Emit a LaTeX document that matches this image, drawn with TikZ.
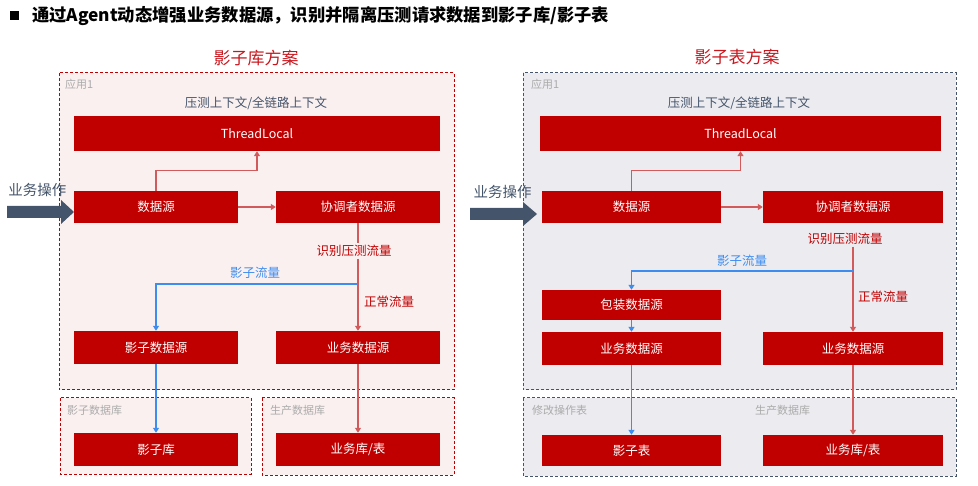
\documentclass[tikz,border=0pt]{standalone}
\usepackage{fontspec}
\setmainfont{Noto Sans CJK SC}
\usetikzlibrary{arrows.meta}
\definecolor{boxred}{HTML}{C00000}
\definecolor{titlered}{HTML}{C8161D}
\definecolor{linered}{HTML}{D25A5A}
\definecolor{lineblue}{HTML}{3D8DF0}
\definecolor{slate}{HTML}{44546A}
\definecolor{pinkbg}{HTML}{FBF0F0}
\definecolor{graybg}{HTML}{EBEBF0}
\definecolor{lblgray}{HTML}{ABABAB}
\tikzset{
  rbox/.style={fill=boxred, text=white, inner sep=0pt, font=\fontsize{12.5}{14}\selectfont},
  redarrow/.style={draw=linered, line width=1.3pt, -{Triangle[width=6pt,length=5pt]}},
  redline/.style={draw=linered, line width=1.3pt},
  bluearrow/.style={draw=lineblue, line width=1.2pt, -{Triangle[width=6pt,length=5pt]}},
  blueline/.style={draw=lineblue, line width=1.2pt},
  zoneL/.style={draw=boxred, dash pattern=on 3pt off 2pt, line width=1pt, fill=pinkbg},
  zoneR/.style={draw=slate, dash pattern=on 3pt off 2pt, line width=1pt, fill=graybg},
  zlabel/.style={text=lblgray, inner sep=0pt, anchor=west, font=\fontsize{11}{12}\selectfont},
  ctx/.style={text=slate, inner sep=0pt, font=\fontsize{12.5}{14}\selectfont},
  ptitle/.style={text=titlered, inner sep=0pt, font=\fontsize{17}{19}\selectfont},
  flowred/.style={text=boxred, inner sep=2pt, font=\fontsize{12.5}{14}\selectfont},
  flowblue/.style={text=lineblue, inner sep=2pt, font=\fontsize{12.5}{14}\selectfont},
  oplabel/.style={text=slate, inner sep=0pt, font=\fontsize{14.5}{16}\selectfont},
  bigarrow/.style={fill=slate, draw=none},
}
\begin{document}
\begin{tikzpicture}[x=1pt,y=-1pt]
\useasboundingbox (0,0) rectangle (978,486);
% header
\fill[black] (10,11) rectangle (19,20);
\node[anchor=west, inner sep=0pt, font=\fontsize{17.3}{19}\selectfont\bfseries] (hdr) at (32,16) {通过Agent动态增强业务数据源，识别并隔离压测请求数据到影子库/影子表};

% ===== Left panel =====
\node[ptitle] (lt) at (256,58) {影子库方案};
\draw[zoneL] (59,73) rectangle (454,390);
\draw[zoneL] (60,398) rectangle (251,474);
\draw[zoneL] (262,398) rectangle (454,475);
\node[zlabel] (lapp) at (65,84) {应用1};
\node[zlabel] (lzs) at (67,410) {影子数据库};
\node[zlabel] (lzp) at (270,410) {生产数据库};
\node[ctx] (lctx) at (256,103) {压测上下文/全链路上下文};

\node[rbox, minimum width=366pt, minimum height=35pt] (LTL) at (257,133.5) {ThreadLocal};
\node[rbox, minimum width=164pt, minimum height=32pt] (LDS) at (156,207) {数据源};
\node[rbox, minimum width=164pt, minimum height=32pt] (LCO) at (358,207) {协调者数据源};
\node[rbox, minimum width=164pt, minimum height=33pt] (LSDS) at (156,347.5) {影子数据源};
\node[rbox, minimum width=164pt, minimum height=33pt] (LBDS) at (358,347.5) {业务数据源};
\node[rbox, minimum width=164pt, minimum height=33pt] (LSK) at (156,449.5) {影子库};
\node[rbox, minimum width=164pt, minimum height=33pt] (LBK) at (358,449.5) {业务库/表};

\draw[redarrow] (LDS.north) -- ++(0,-20) -| (LTL.south);
\draw[redarrow] (LDS.east) -- (LCO.west);
\node[flowred] (ldet) at (354,251) {识别压测流量};
\draw[redline] (LCO.south) -- (LCO.south |- ldet.north);
\draw[redarrow] (LCO.south |- ldet.south) -- (LBDS.north);
\coordinate (lbr) at (358,284);
\draw[bluearrow] (lbr) -| (LSDS.north);
\node[flowblue] (lsf) at (255,273) {影子流量};
\node[flowred, anchor=west, inner sep=0pt] (lnf) at (364,302) {正常流量};
\draw[bluearrow] (LSDS.south) -- (LSK.north);
\draw[redarrow] (LBDS.south) -- (LBK.north);

\node[oplabel] (lop) at (37.5,190) {业务操作};
\fill[bigarrow] (7,206) -- (61,206) -- (61,200) -- (74,212) -- (61,224) -- (61,218) -- (7,218) -- cycle;

% ===== Right panel =====
\node[ptitle] (rt) at (737,57) {影子表方案};
\draw[zoneR] (523,73) rectangle (956,390);
\draw[zoneR] (523,398) rectangle (956,476);
\node[zlabel] (rapp) at (531,84) {应用1};
\node[zlabel] (rzs) at (532,410) {修改操作表};
\node[zlabel] (rzp) at (755,410) {生产数据库};
\node[ctx] (rctx) at (739,103) {压测上下文/全链路上下文};

\node[rbox, minimum width=401pt, minimum height=35pt] (RTL) at (740.5,133.5) {ThreadLocal};
\node[rbox, minimum width=179pt, minimum height=32pt] (RDS) at (631.5,207) {数据源};
\node[rbox, minimum width=180pt, minimum height=32pt] (RCO) at (853,207) {协调者数据源};
\node[rbox, minimum width=179pt, minimum height=30pt] (RWDS) at (631.5,305) {包装数据源};
\node[rbox, minimum width=179pt, minimum height=33pt] (RLBDS) at (631.5,348.5) {业务数据源};
\node[rbox, minimum width=180pt, minimum height=33pt] (RRBDS) at (853,348.5) {业务数据源};
\node[rbox, minimum width=179pt, minimum height=31pt] (RST) at (631.5,450.5) {影子表};
\node[rbox, minimum width=180pt, minimum height=31pt] (RBK) at (853,450.5) {业务库/表};

\draw[redarrow] (RDS.north) -- ++(0,-20) -| (RTL.south);
\draw[redarrow] (RDS.east) -- (RCO.west);
\node[flowred] (rdet) at (845,239) {识别压测流量};
\draw[redarrow] (RCO.south |- rdet.south) -- (RRBDS.north);
\coordinate (rbr) at (853,271);
\draw[bluearrow] (rbr) -| (RWDS.north);
\node[flowblue] (rsf) at (742,261) {影子流量};
\node[flowred, anchor=west, inner sep=0pt] (rnf) at (858,297) {正常流量};
\draw[bluearrow] (RWDS.south) -- (RLBDS.north);
\draw[bluearrow] (RLBDS.south) -- (RST.north);
\draw[redarrow] (RRBDS.south) -- (RBK.north);

\node[oplabel] (rop) at (502.5,192) {业务操作};
\fill[bigarrow] (470,208) -- (523,208) -- (523,202) -- (537,214) -- (523,226) -- (523,220) -- (470,220) -- cycle;
\end{tikzpicture}
\end{document}
